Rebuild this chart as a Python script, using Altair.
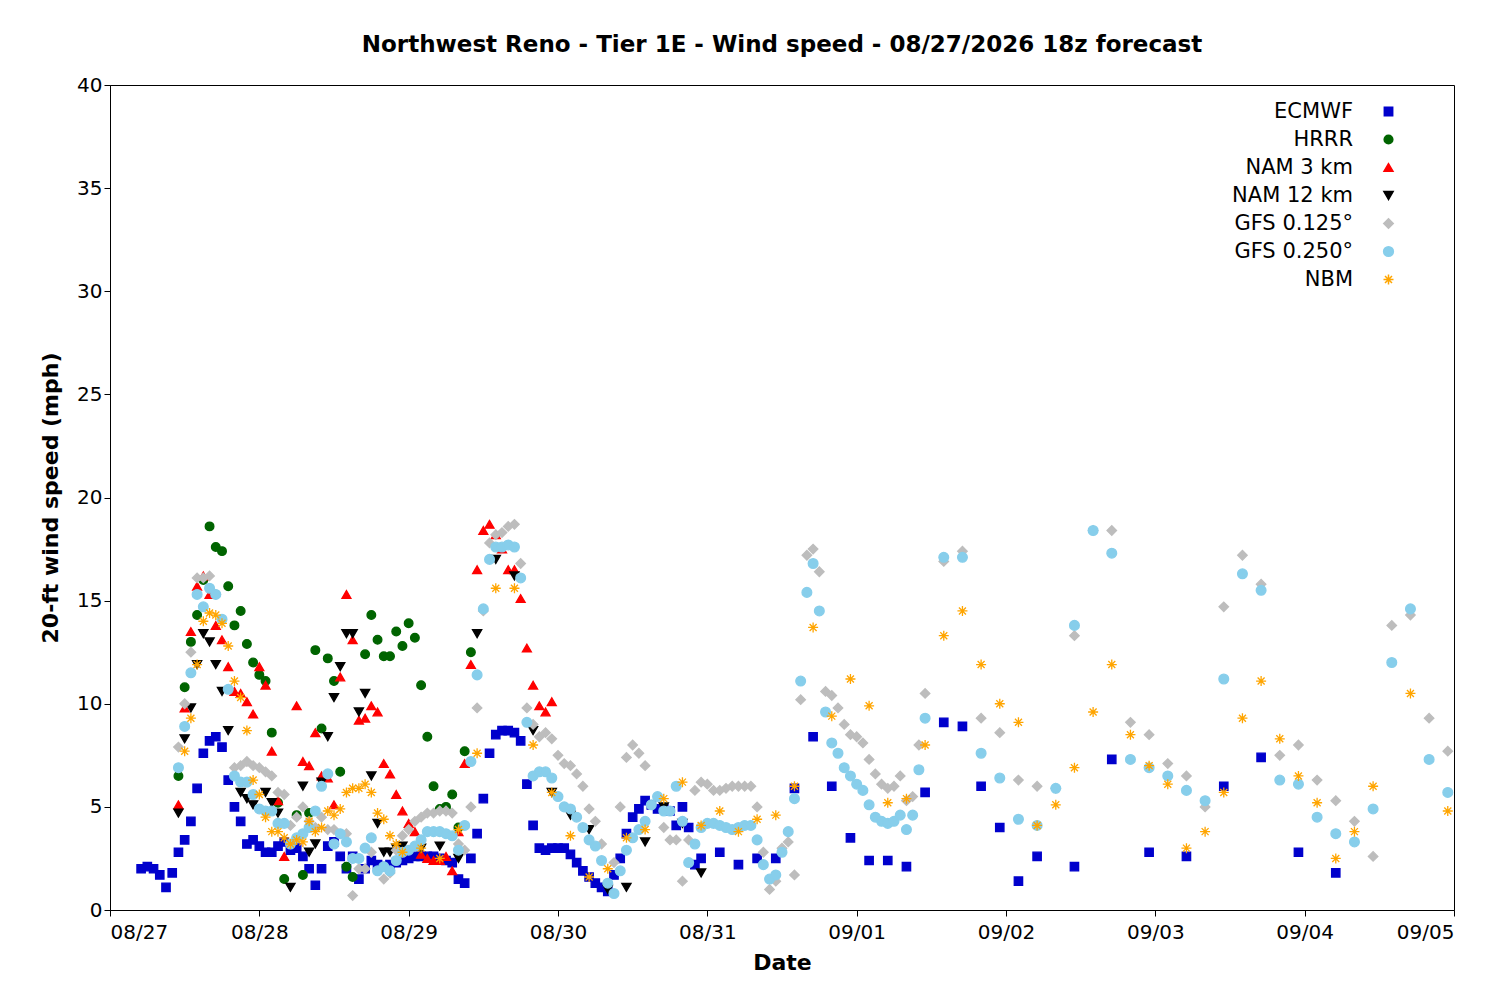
import pandas as pd
import altair as alt

# hours after 08/27 00:00, speeds in mph; None = not visible / hidden
MODELS = ["ECMWF", "HRRR", "NAM 3 km", "NAM 12 km", "GFS 0.125°", "GFS 0.250°", "NBM"]
COLORS = ["#0000cc", "#006400", "#ff0000", "#000000", "#bdbdbd", "#87ceeb", "#ffa500"]
SHAPES = ["square", "circle", "triangle-up", "triangle-down", "diamond", "circle",
          "M-1,0L1,0M0,-1L0,1M-0.7,-0.7L0.7,0.7M-0.7,0.7L0.7,-0.7"]
SIZES = [70, 100, 95, 95, 75, 90, 130]
DAY_LABELS = ["08/27", "08/28", "08/29", "08/30", "08/31", "09/01", "09/02", "09/03", "09/04", "09/05"]

ecmwf_hourly = [2.0, 2.1, 2.0, 1.7, 1.1, 1.8, 2.8, 3.4, 4.3, 5.9, 7.6, 8.2, 8.4, 7.9, 6.3, 5.0, 4.3, 3.2,
                3.4, 3.1, 2.8, 2.8, 3.1, 3.3, 2.9, 3.0, 2.6, 2.0, 1.2, 2.0, 3.1, 3.3, 2.6, 2.0, 2.6, 1.5,
                2.0, 2.4, 2.2, 2.1, 2.2, 2.3, 2.4, 2.5, 2.6, 2.6, 2.6, 2.6, 2.5, 2.4, 2.3, 1.5, 1.3, 2.5,
                3.7, 5.4, 7.6, 8.5, 8.7, 8.7, 8.6, 8.2, 6.1, 4.1, 3.0, 2.9, 3.0, 3.0, 3.0, 2.7, 2.3, 1.9,
                1.6, 1.3, 1.1, 0.9, 1.7, 2.5, 3.7, 4.5, 4.9, 5.3, 5.1, 4.9, 4.9, 4.8, 4.1, 5.0, 4.0, 2.2, 2.5]
ecmwf_3h = [2.8, 2.2, 2.5, 2.5, 5.9, 8.4, 6.0, 3.5, 2.4, 2.4, 2.1, 5.7, 9.1, 8.9, 6.0, 4.0, 1.4, 2.6]
ecmwf_6h = [2.1, 7.3, 2.8, 2.6, 6.0, 7.4, 2.8, 1.8]

hrrr_hourly = [6.5, 10.8, 13.0, 14.3, 16.0, 18.6, 17.6, 17.4, 15.7, 13.8, 14.5, 12.9, 12.0, 11.4, 11.1,
               8.6, 5.2, 1.5, None, 4.6, 1.7, 4.7, 12.6, 8.8, 12.2, 11.1, 6.7, 2.1, 1.6, None, 12.4, 14.3,
               13.1, 12.3, 12.3, 13.5, 12.8, 13.9, 13.2, 10.9, 8.4, 6.0, 4.9, 5.0, 5.6, 4.0, 7.7, 12.5]

nam3_hourly = [5.1, 9.8, 13.5, 15.7, 16.2, 15.3, 13.8, 13.1, 11.8, 10.6, 10.5, 10.1, 9.5, 11.8, 10.9,
               7.7, 5.3, 2.6, None, 9.9, 7.2, 7.0, 8.6, 6.5, 6.4, 5.1, 11.3, 15.3, 13.1, 9.2, 9.3, 9.9,
               9.6, 7.1, 6.6, 5.6, 4.8, 4.2, 3.8, 2.7, 2.5, 2.4, 2.4, 2.6, 1.9, 3.8, 7.1, 11.9, 16.5,
               18.4, 18.7, 18.2, 17.5, 16.5, 16.5, 15.1, 12.7, 10.9, 9.9, 9.6, 10.1]

nam12_hourly = [4.7, 8.3, 9.8, 11.9, 13.4, 13.0, 11.9, 10.6, 8.7, None, 5.7, 5.4, 5.1, None, 5.7, 5.2,
                4.7, None, 1.1, None, 6.0, 2.8, 3.2, 6.2, 8.4, 10.3, 11.8, 13.4, 13.4, 9.6, 10.5, 6.5,
                4.2, 2.8, 2.8, 3.0, 3.1]
nam12_3h = [3.0, 3.1, 2.5, 13.4, 17.0, 16.2, 8.7, 5.7, 4.6, 3.9, 1.0, 1.1, 3.3, 5.0, 4.2, 1.8]

gfs125_hourly = [7.9, 10.0, 12.5, 16.1, 16.1, 16.2, 15.3, None, None, 6.9, 7.0, 7.2, 7.0, 6.9, 6.7, 6.5,
                 5.7, 5.6, 4.1, 4.5, 5.0, 4.3, 4.0, 4.5, 3.9, 3.9, None, 3.7, 0.7, 2.0, 2.0, 2.8, None,
                 1.5, 1.8, 2.9, 3.6, 3.9, 4.3, 4.5, 4.7, 4.7, 4.8, 4.8, 4.7, 3.2, 2.9, 5.0, 9.8, 14.5,
                 17.8, 18.2, 18.3, 18.6, 18.7, 16.8, 9.8, 9.0, 8.4, 8.6, 8.3, 7.5, 7.1, 7.0, 6.6, 6.0,
                 4.9, 4.3, 3.2, None, 2.3, 5.0, 7.4, 8.0, 7.6, 7.0, None, None, 4.0, 3.4, 3.4, 1.4, 3.4,
                 5.8, 6.2, 6.1, 5.8, 5.8, 5.9, 6.0, 6.0, 6.0, 6.0, 5.0, 2.8, 1.0, 1.4, 3.0, 3.3, 1.7,
                 10.2, 17.2, 17.5, 16.4, 10.6, 10.4, 9.8, 9.0, 8.5, 8.4, 8.1, 7.3, 6.6, 6.1, 5.9, 6.0,
                 6.5, 5.3, 5.5, 8.0, 10.5]
gfs125_3h = [16.9, 17.4, 9.3, 8.6, 6.3, 6.0, 5.9, 13.3, 18.4, 18.4, 9.1, 8.5, 7.1, 6.5, 5.0, 14.7, 17.2,
             15.8, 7.5, 8.0, 6.3, 5.3, 4.3, 2.6, 13.8, 14.3, 9.3, 7.7]

gfs250_hourly = [6.9, 8.9, 11.5, 15.3, 14.7, 15.6, 15.3, 14.1, 10.7, 6.5, 6.2, 6.2, 5.6, 4.9, 4.8, 4.8,
                 4.2, 4.2, 3.2, 3.5, 3.7, 4.0, 4.8, 6.0, 6.6, 3.2, 3.7, 3.3, 2.5, 2.5, 3.0, 3.5, 1.9,
                 2.1, 1.9, 2.4, 2.8, 2.9, 3.1, 3.4, 3.8, 3.8, 3.8, 3.7, 3.6, 2.9, 4.1, 7.2, 11.4, 14.6,
                 17.0, 17.6, 17.6, 17.7, 17.6, 16.1, 9.1, 6.5, 6.7, 6.7, 6.4, 5.5, 5.0, 4.9, 4.5, 4.0,
                 3.4, 3.1, 2.4, 1.3, 0.8, 1.9, 2.9, 3.5, 3.9, 4.3, 5.1, 5.5, 4.8, 4.8, 6.0, 4.3, 2.3,
                 3.2, 4.0, 4.2, 4.2, 4.1, 4.0, 3.9, 4.0, 4.1, 4.1, 3.4, 2.2, 1.5, 1.7, 2.8, 3.8, 5.4,
                 11.1, 15.4, 16.8, 14.5, 9.6, 8.1, 7.6, 6.9, 6.5, 6.1, 5.8, 5.1, 4.5, 4.3, 4.2, 4.3,
                 4.6, 3.9, 4.6, 6.8, 9.3]
gfs250_3h = [17.1, 17.1, 7.6, 6.4, 4.4, 4.1, 5.9, 13.8, 18.4, 17.3, 7.3, 6.9, 6.5, 5.8, 5.3, 11.2, 16.3,
             15.5, 6.3, 6.1, 4.5, 3.7, 3.3, 4.9, 12.0, 14.6, 7.3, 5.7]

nbm_hourly = [7.7, 9.3, 11.9, 14.0, 14.4, 14.3, 13.9, 12.8, 11.1, 10.3, 8.7, 6.3, 5.6, 4.5, 3.8, 3.8,
              3.5, 3.2, 3.4, 3.3, 4.3, 3.8, 4.0, 4.8, 4.6, 4.9, 5.7, 5.9, 5.9, 6.1, 5.7, 4.7, 4.4, 3.6,
              3.2, 2.8]
nbm_3h = [3.0, 2.5, 3.9, 7.6, 15.6, 15.6, 8.0, 5.7, 3.6, 1.6, 2.0, 3.5, 3.9, 5.4, 6.2, 4.1, 4.8, 3.8,
          4.4, 4.6, 6.0, 13.7, 9.4, 11.2, 9.9, 5.2, 5.4, 8.0, 13.3, 14.5, 11.9, 10.0, 9.1, 4.1, 5.1,
          6.9, 9.6, 11.9, 8.5, 7.0, 6.1, 3.0, 3.8, 5.7, 9.3, 11.1, 8.3, 6.5, 5.2, 2.5, 3.8, 6.0, None,
          10.5, None, 4.8]

SEGMENTS = {
    "ECMWF": [(5, 1, ecmwf_hourly), (98, 3, ecmwf_3h), (155, 6, ecmwf_6h)],
    "HRRR": [(11, 1, hrrr_hourly)],
    "NAM 3 km": [(11, 1, nam3_hourly)],
    "NAM 12 km": [(11, 1, nam12_hourly), (50, 3, nam12_3h)],
    "GFS 0.125°": [(11, 1, gfs125_hourly), (134, 3, gfs125_3h)],
    "GFS 0.250°": [(11, 1, gfs250_hourly), (134, 3, gfs250_3h)],
    "NBM": [(12, 1, nbm_hourly), (50, 3, nbm_3h)],
}

rows = []
for model, segs in SEGMENTS.items():
    for start, step, vals in segs:
        for i, v in enumerate(vals):
            if v is not None:
                rows.append({"hour": start + i * step, "speed": v, "model": model,
                             "order": MODELS.index(model)})
df = pd.DataFrame(rows)

color_scale = alt.Scale(domain=MODELS, range=COLORS)
label_expr = "[" + ",".join(f"'{d}'" for d in DAY_LABELS) + "][datum.value / 24]"

chart = (
    alt.Chart(df)
    .mark_point(filled=True, strokeWidth=1.3, opacity=1)
    .encode(
        x=alt.X("hour:Q", title="Date",
                scale=alt.Scale(domain=[0, 216], nice=False),
                axis=alt.Axis(values=list(range(0, 217, 24)), labelExpr=label_expr)),
        y=alt.Y("speed:Q", title="20-ft wind speed (mph)",
                scale=alt.Scale(domain=[0, 40], nice=False),
                axis=alt.Axis(values=list(range(0, 41, 5)))),
        color=alt.Color("model:N", scale=color_scale, sort=MODELS,
                        legend=alt.Legend(title=None, orient="none", legendX=1264, legendY=12,
                                          labelFontSize=21, rowPadding=6,
                                          labelAlign="right", labelOffset={"expr": "-46"},
                                          padding=4)),
        stroke=alt.Stroke("model:N", scale=color_scale, sort=MODELS, legend=None),
        shape=alt.Shape("model:N", scale=alt.Scale(domain=MODELS, range=SHAPES), sort=MODELS),
        size=alt.Size("model:N", scale=alt.Scale(domain=MODELS, range=SIZES), legend=None),
        order=alt.Order("order:Q"),
    )
    .properties(
        title="Northwest Reno - Tier 1E - Wind speed - 08/27/2026 18z forecast",
        width=1344,
        height=825,
        autosize="none",
        padding={"left": 102, "top": 77, "right": 30, "bottom": 82},
    )
    .configure(font="DejaVu Sans")
    .configure_view(stroke="black", strokeWidth=1)
    .configure_axis(grid=False, labelFontSize=20, titleFontSize=22, titleFontWeight="bold",
                    labelColor="black", titleColor="black", domainColor="black", tickColor="black",
                    tickSize=6)
    .configure_axisX(titlePadding=10, labelPadding=6)
    .configure_axisY(titlePadding=14)
    .configure_title(fontSize=23, fontWeight="bold", offset=18)
    .configure_legend(labelColor="black")
)

chart.save("out.html", embed_options={"renderer": "svg", "actions": False})
